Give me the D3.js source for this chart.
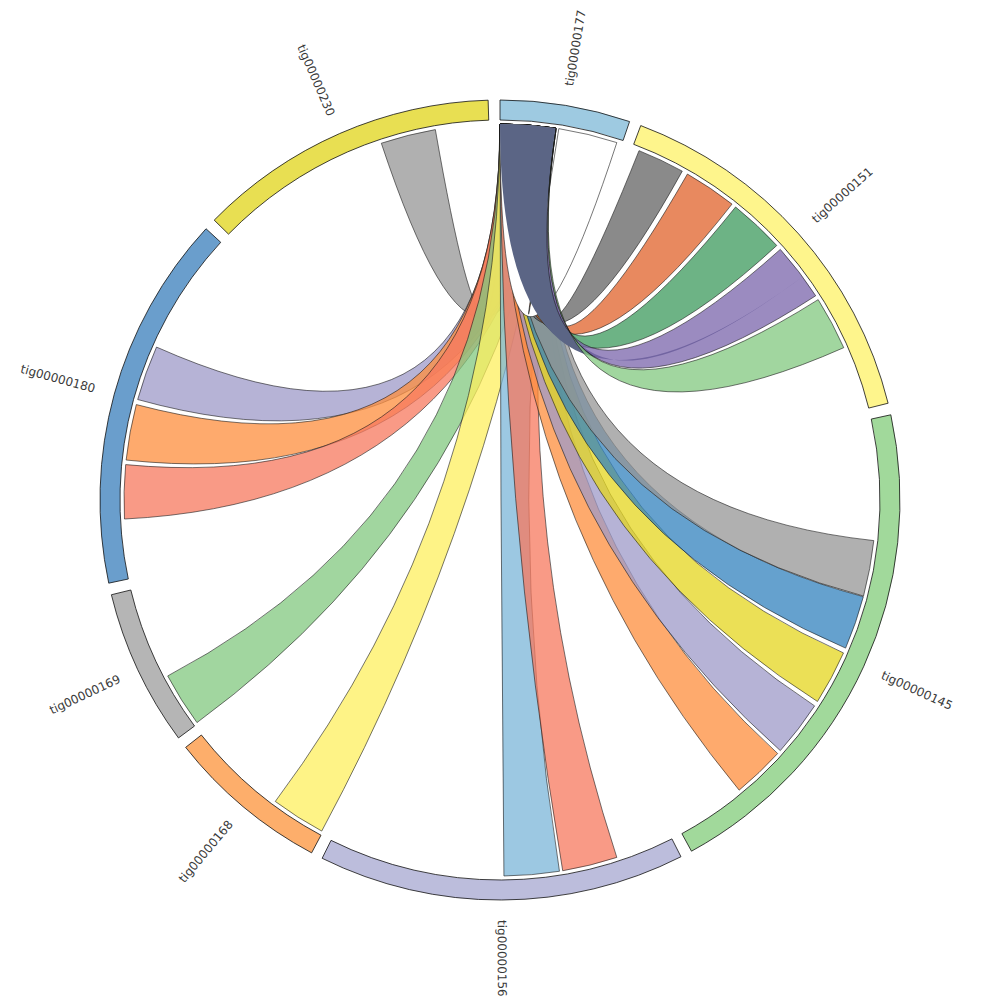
<!DOCTYPE html>
<html>
<head>
<meta charset="utf-8">
<script src="https://cdn.jsdelivr.net/npm/d3@7"></script>
<style>
  body { margin: 0; background: #fff; }
  .label { font-family: "DejaVu Sans", sans-serif; font-size: 12px; fill: #3a3a3a; }
</style>
</head>
<body>
<svg id="chart" width="1000" height="1000"></svg>
<script>
// contigs, clockwise from 12 o'clock (lengths in kb)
const contigs = ['tig00000177', 'tig00000151', 'tig00000145', 'tig00000156',
                 'tig00000168', 'tig00000169', 'tig00000180', 'tig00000230'];
const lengths = [189, 554, 737, 533, 237, 228, 547, 439];
const contigColors = ['#9ecae1', '#fef58c', '#a1d99b', '#bcbddc',
                      '#fdae6b', '#b5b5b5', '#6a9ecc', '#e8df52'];

// links, in drawing order: source contig + window, target contig + window (kb)
const linkSrc = [
    [7, 272, 357], [6, 275, 360], [6, 181, 267], [6, 91, 174],
    [5, 2, 86], [4, 2, 86], [3, 178, 263], [3, 88, 173],
    [2, 547, 628], [2, 455, 541], [2, 363, 447], [2, 272, 355], [2, 185, 271],
    [1, 11, 84], [1, 93, 175], [1, 182, 268],
    [0, 90, 181], [0, 0, 85],
    [1, 276, 365], [1, 372, 455]
];
const linkTgt = [
    [0, 0, 85], [0, 0, 85], [0, 0, 85], [0, 0, 85],
    [0, 0, 85], [0, 0, 85], [0, 0, 85], [0, 0, 85],
    [0, 0, 85], [0, 0, 85], [0, 0, 85], [0, 0, 85], [0, 0, 85],
    [0, 0, 85], [0, 0, 85], [0, 0, 85],
    [0, 0, 85], [1, 330, 330],
    [0, 86, 86], [0, 86, 86]
];
const linkColors = [
    '#969696', '#9e9ac8', '#fd8d3c', '#f7785e',
    '#82c87f', '#feef5e', '#7bb6d8', '#f7785e',
    '#fd8d3c', '#9e9ac8', '#e4d61e', '#3182bd', '#969696',
    '#636363', '#e0622a', '#3c9a5c',
    '#ffffff', '#5b6585',
    '#7a64ab', '#82c87f'
];

const svg = d3.select('#chart');
const g = svg.append('g').attr('transform', 'translate(500,500)');

const innerRadius = 380,
      outerRadius = 400,
      ribbonRadius = 376,
      padAngle = 1.7 * Math.PI / 180;

const total = d3.sum(lengths);
const angle = d3.scaleLinear()
    .domain([0, total])
    .range([0, 2 * Math.PI - contigs.length * padAngle]);

// start angle of every contig
const offsets = d3.cumsum([0].concat(lengths));
const groups = contigs.map(function(name, i) {
    const start = angle(offsets[i]) + i * padAngle;
    return {
        index: i,
        name: name,
        startAngle: start,
        endAngle: start + angle(lengths[i])
    };
});

function end(d) {
    const a = groups[d[0]].startAngle;
    return { startAngle: a + angle(d[1]), endAngle: a + angle(d[2]) };
}

// links that start on tig00000177 itself are drawn solid, the others see-through
const links = linkSrc.map(function(s, i) {
    return {
        source: end(s),
        target: end(linkTgt[i]),
        color: linkColors[i],
        solid: s[0] === 0,
        away: linkTgt[i][0] !== 0
    };
});

// ribbons first
g.append('g')
    .selectAll('path')
    .data(links)
    .join('path')
    .attr('d', d3.ribbon().radius(ribbonRadius))
    .attr('fill', function(d) { return d.color; })
    .attr('fill-opacity', function(d) { return d.solid ? 1 : .75; })
    // the link from 177 out to 151 has no outline
    .attr('stroke', function(d) { return d.away ? 'none' : '#1a1a1a'; })
    .attr('stroke-opacity', .85)
    .attr('stroke-width', .7);

// contig arcs
const arc = d3.arc().innerRadius(innerRadius).outerRadius(outerRadius);
g.append('g')
    .selectAll('path')
    .data(groups)
    .join('path')
    .attr('d', arc)
    .attr('fill', function(d) { return contigColors[d.index]; })
    .attr('stroke', '#111')
    .attr('stroke-width', .8);

// labels, classic chord style
g.append('g')
    .selectAll('text')
    .data(groups)
    .join('text')
    .attr('class', 'label')
    .each(function(d) { d.angle = (d.startAngle + d.endAngle) / 2; })
    .attr('dy', '.35em')
    .attr('transform', function(d) {
        return 'rotate(' + (d.angle * 180 / Math.PI - 90) + ')'
            + 'translate(' + (outerRadius + 20) + ')'
            + (d.angle > Math.PI ? 'rotate(180)' : '');
    })
    .attr('text-anchor', function(d) { return d.angle > Math.PI ? 'end' : null; })
    .text(function(d) { return d.name; });
</script>
</body>
</html>
